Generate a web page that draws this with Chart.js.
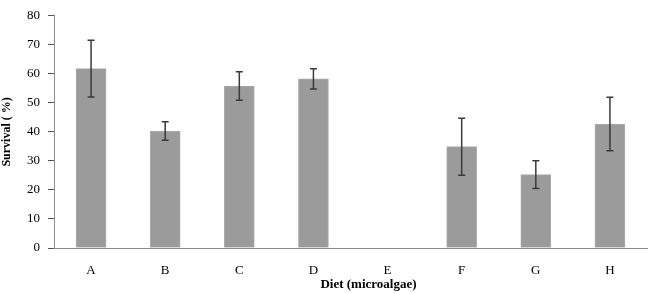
<!DOCTYPE html>
<html>
<head>
<meta charset="utf-8">
<script src="https://cdn.jsdelivr.net/npm/chart.js@4/dist/chart.umd.min.js"></script>
<style>
html,body{margin:0;padding:0;background:#fff;}
#wrap{width:650px;height:293px;position:relative;}
</style>
</head>
<body>
<div id="wrap"><canvas id="c" width="650" height="293"></canvas></div>
<script>
const categories = ["A","B","C","D","E","F","G","H"];
const survival = [61.8, 40.3, 55.8, 58.3, 0, 34.9, 25.3, 42.7];
const sd = [9.8, 3.2, 4.9, 3.5, 0, 9.8, 4.8, 9.2];
const yTicks = [0,10,20,30,40,50,60,70,80];
const yTitle = "Survival ( %)";
const xTitle = "Diet (microalgae)";

const errorBars = {
  id: 'errorBars',
  afterDatasetsDraw(chart) {
    const ctx = chart.ctx;
    const meta = chart.getDatasetMeta(0);
    const ys = chart.scales.y;
    ctx.save();
    ctx.strokeStyle = '#3a3a3a';
    ctx.lineWidth = 1.5;
    meta.data.forEach((bar, i) => {
      if (!sd[i]) return;
      const x = bar.x;
      const yh = ys.getPixelForValue(survival[i] + sd[i]);
      const yl = ys.getPixelForValue(survival[i] - sd[i]);
      const cw = 3.5;
      ctx.beginPath();
      ctx.moveTo(x, yh); ctx.lineTo(x, yl);
      ctx.moveTo(x - cw, yh); ctx.lineTo(x + cw, yh);
      ctx.moveTo(x - cw, yl); ctx.lineTo(x + cw, yl);
      ctx.stroke();
    });
    ctx.restore();
  }
};

const xTitlePlugin = {
  id: 'xTitlePlugin',
  afterDraw(chart) {
    const ctx = chart.ctx;
    const a = chart.chartArea;
    ctx.save();
    ctx.font = 'bold 13px "Liberation Serif"';
    ctx.fillStyle = '#000';
    ctx.textAlign = 'center';
    ctx.textBaseline = 'middle';
    ctx.fillText(xTitle, (a.left + a.right) / 2 + 18, 285);
    ctx.restore();
  }
};

new Chart(document.getElementById('c'), {
  type: 'bar',
  data: {
    labels: categories,
    datasets: [{
      data: survival,
      backgroundColor: '#9b9b9b',
      borderColor: '#acacac',
      borderWidth: 1,
      barThickness: 30
    }]
  },
  options: {
    responsive: false,
    animation: false,
    layout: { padding: { left: 0, right: 3, top: 9, bottom: 0 }, autoPadding: false },
    plugins: { legend: { display: false }, tooltip: { enabled: false } },
    scales: {
      x: {
        grid: { display: false },
        border: { display: true, color: '#8c8c8c', width: 1 },
        ticks: { color: '#000', font: { family: 'Liberation Serif', size: 13 }, padding: 7, maxRotation: 0 },
        afterFit(s) { s.height = 45; }
      },
      y: {
        min: 0, max: 80,
        afterBuildTicks(s) { s.ticks = yTicks.map(v => ({ value: v })); },
        grid: { drawOnChartArea: false, drawTicks: true, tickLength: 6, color: '#555' },
        border: { display: true, color: '#8c8c8c', width: 1 },
        ticks: { color: '#000', font: { family: 'Liberation Serif', size: 13 }, padding: 8 },
        title: { display: true, text: yTitle, color: '#000', font: { family: 'Liberation Serif', size: 12, weight: 'bold' }, padding: { top: 0, bottom: 0 } },
        afterFit(s) { s.width = 54; }
      }
    }
  },
  plugins: [errorBars, xTitlePlugin]
});
</script>
</body>
</html>
